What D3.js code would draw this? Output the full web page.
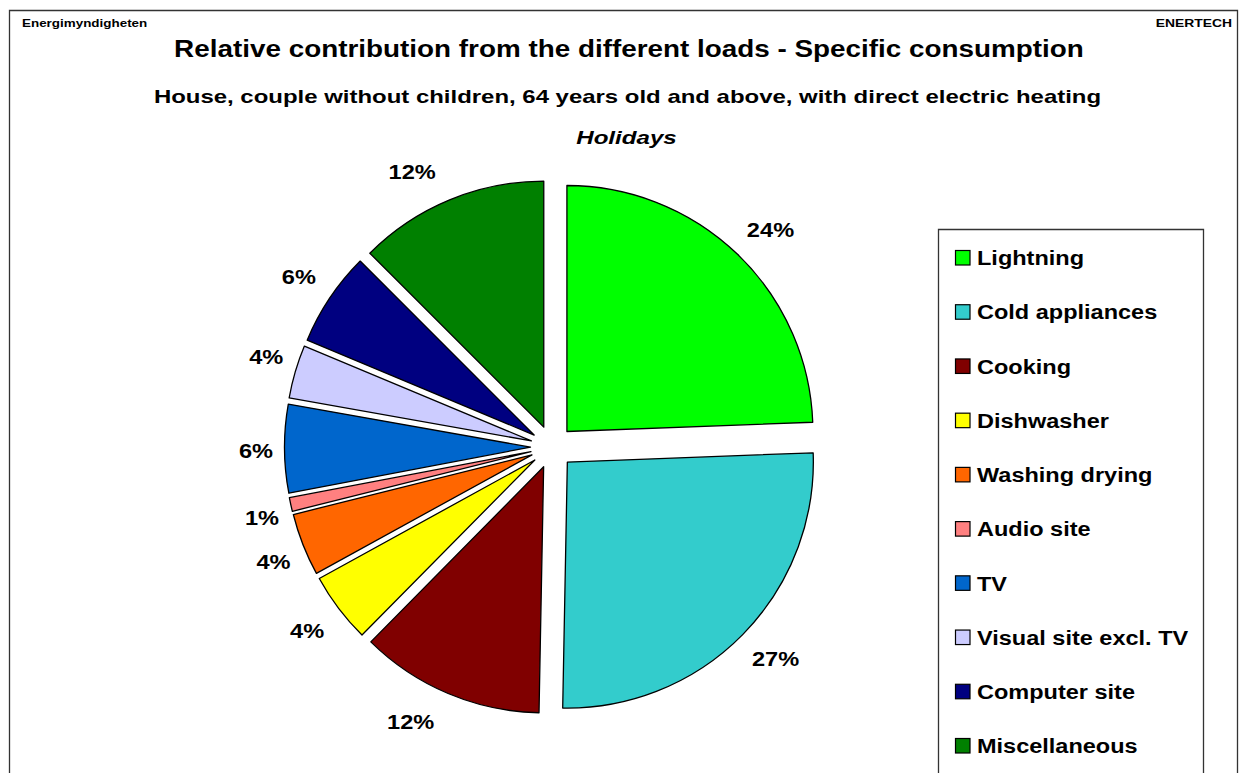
<!DOCTYPE html>
<html><head><meta charset="utf-8">
<script src="https://cdn.jsdelivr.net/npm/d3@7"></script>
<style>html,body{margin:0;padding:0;background:#fff;}svg{display:block;font-family:"Liberation Sans",Arial,sans-serif;}</style>
</head><body>
<svg id="chart" width="1247" height="773"></svg>
<script>
const categories = ["Lightning","Cold appliances","Cooking","Dishwasher","Washing drying","Audio site","TV","Visual site excl. TV","Computer site","Miscellaneous"];
const shares = [24.4, 25.9, 12.1, 4.6, 4.1, 0.9, 5.8, 3.5, 6.2, 12.5];
const shareLabels = ["24%","27%","12%","4%","4%","1%","6%","4%","6%","12%"];
const colors = ["#00FF00","#33CCCC","#800000","#FFFF00","#FF6600","#FF8080","#0066CC","#CCCCFF","#000080","#008000"];

const svg = d3.select("#chart");
const W = 1247, H = 773;

function stretch(sel, factor) {
  const len = sel.node().getComputedTextLength();
  sel.attr("textLength", len * factor).attr("lengthAdjust", "spacingAndGlyphs");
  return sel;
}

// frame
svg.append("path").attr("d", `M9.5,${H+5} V10.5 H1237.5 V${H+5}`).attr("fill","none").attr("stroke","#333").attr("stroke-width",1.3);

stretch(svg.append("text").attr("x",22).attr("y",27).attr("font-size",11).attr("font-weight","bold").text("Energimyndigheten"), 1.22);
stretch(svg.append("text").attr("x",1232).attr("y",27).attr("text-anchor","end").attr("font-size",11).attr("font-weight","bold").text("ENERTECH"), 1.26);

stretch(svg.append("text").attr("x",629).attr("y",57).attr("text-anchor","middle").attr("font-size",23.5).attr("font-weight","bold").text("Relative contribution from the different loads - Specific consumption"), 1.185);
stretch(svg.append("text").attr("x",627.5).attr("y",103).attr("text-anchor","middle").attr("font-size",19).attr("font-weight","bold").text("House, couple without children, 64 years old and above, with direct electric heating"), 1.26);
stretch(svg.append("text").attr("x",626.5).attr("y",144).attr("text-anchor","middle").attr("font-size",19).attr("font-weight","bold").attr("font-style","italic").text("Holidays"), 1.27);

// pie
const cx = 552, cy = 447, R = 246, explode = 21.5;
const pie = d3.pie().sort(null).value(d => d)(shares);
const arc = d3.arc().innerRadius(0).outerRadius(R);
const g = svg.append("g").attr("transform",`translate(${cx},${cy})`);
const sX = v => Math.sign(v) * Math.min(1, Math.abs(v) * 3);
const sY = v => Math.sign(v) * Math.pow(Math.abs(v), 0.6);
pie.forEach((p,i) => {
  const mid = (p.startAngle + p.endAngle)/2;
  const sx = Math.sin(mid), sy = -Math.cos(mid);
  g.append("path").attr("d", arc(p)).attr("transform",`translate(${sx*explode},${sy*explode})`)
    .attr("fill", colors[i]).attr("stroke","#000").attr("stroke-width",1.3).attr("stroke-linejoin","round");
  const lx = 253*sx + 43*sX(sx), ly = 261*sy + 36*sY(sy);
  stretch(g.append("text").attr("x", lx).attr("y", ly).attr("dy","0.36em")
    .attr("text-anchor","middle").attr("font-size",20).attr("font-weight","bold").text(shareLabels[i]), 1.18);
});

// legend
svg.append("path").attr("d", `M938.5,${H+5} V229.5 H1203.5 V${H+5}`).attr("fill","#fff").attr("stroke","#333").attr("stroke-width",1.3);
const lyScale = d3.scalePoint().domain(categories).range([258, 746]);
categories.forEach((c,i) => {
  const y = lyScale(c);
  svg.append("rect").attr("x",955.5).attr("y",y-7.5).attr("width",14.5).attr("height",14.5).attr("fill",colors[i]).attr("stroke","#000").attr("stroke-width",1.2);
  stretch(svg.append("text").attr("x",977).attr("y",y).attr("dy","0.36em").attr("font-size",20).attr("font-weight","bold").text(c), 1.175);
});
</script>
</body></html>
